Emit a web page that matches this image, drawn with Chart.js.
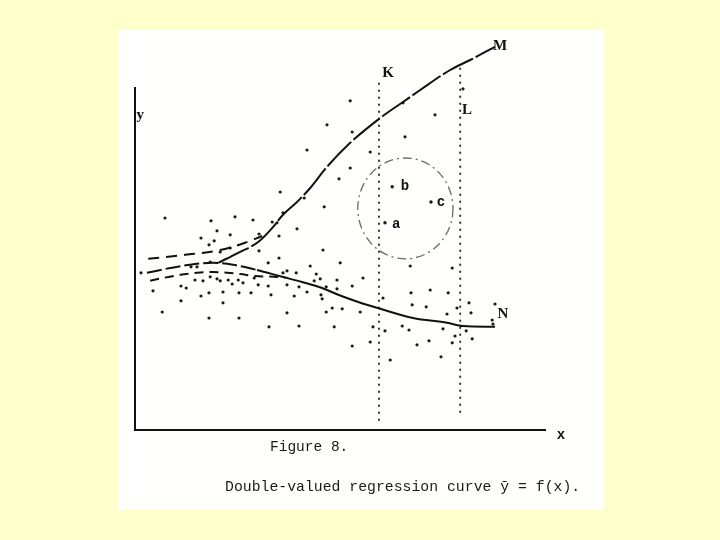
<!DOCTYPE html>
<html>
<head>
<meta charset="utf-8">
<title>Figure 8</title>
<script src="https://cdn.jsdelivr.net/npm/chart.js@4/dist/chart.umd.min.js"></script>
<style>
    body { margin: 0; background: #ffffcc; }
    #page { position: absolute; left: 118px; top: 30px; width: 486px; height: 480px; background: #fffffd; }
    #fig { position: absolute; left: 0; top: 0; }
    .cap { position: absolute; font-family: "Liberation Mono", monospace; color: #1a1a1a; white-space: pre; line-height: 1; }
</style>
</head>
<body>
<div id="page"></div>
<canvas id="fig" width="720" height="540"></canvas>
<div class="cap" style="left:270px; top:440px; font-size:14.5px;">Figure 8.</div>
<div class="cap" style="left:225px; top:480px; font-size:14.8px;">Double-valued regression curve ȳ = f(x).</div>
<script>
// scattered observations (x, y)
var dotsX = [7.5, 19, 25, 29.5, 20.5, 23.8, 16.5, 18.5, 19.8, 21.3, 23.8, 18.8, 1.5, 15.5, 14, 15, 17, 18.8, 20.5, 21.3, 23.3, 24.3, 25.8, 27, 29.8, 11.5, 12.8, 4.5, 16.5, 18.5, 22, 26, 29, 11.5, 22, 6.8, 18.5, 26,
    37, 34.3, 35.5, 31, 36, 40.5, 47.3, 47, 31, 33.3, 36, 43.8, 51.3, 38, 37, 40.3, 45.3, 44.8, 46.3, 50.5, 57, 30.8, 33.3, 38, 41, 43, 47.8, 50.5, 54.3, 34, 39.8, 46.5, 46.8, 49.3, 51.8, 47.8, 56.3, 38, 33.5, 41, 49.8, 59.5, 54.3,
    71, 78, 55.5, 63.8, 53.8, 67, 75, 48, 54.3, 67.5, 43, 58.8, 53.8, 51, 36.3, 42.3, 88, 87.5, 82,
    68.8, 79.3, 62, 69, 73.8, 78.3, 69.3, 72.8, 83.5, 84, 90, 78, 80.5, 89.3, 89.5, 66.8, 68.5, 77, 82.8, 80, 84.3, 73.5, 79.3, 70.5, 63.8, 76.5, 62.5, 58.8];
var dotsY = [53, 52.3, 53.3, 52.5, 49.8, 48.8, 48, 46.3, 47.3, 44.5, 45.5, 42, 39.3, 40.8, 40.8, 37.5, 37.3, 38.3, 37.8, 37.3, 37.5, 36.5, 37.5, 36.8, 38, 36, 35.5, 34.8, 33.5, 34.3, 34.5, 34.3, 34.3, 32.3, 31.8, 29.5, 28, 28,
    54.3, 52, 51.8, 49, 48.5, 50.3, 55.8, 45, 44.8, 41.8, 43, 41, 41.8, 39.8, 39.3, 39.3, 39, 37.3, 37.8, 37.5, 38, 36.3, 36, 36.3, 35.8, 34.5, 35.8, 35.3, 36, 33.8, 33.5, 33.8, 32.8, 30.5, 30.3, 29.5, 29.5, 29.3, 25.8, 26, 25.8, 25.8, 21,
    93.8, 94.3, 90.5, 86.5, 82.3, 81.8, 78.8, 76.3, 74.5, 73.3, 70, 69.5, 65.5, 62.8, 59.5, 58, 97.5, 93.5, 85.3,
    41, 40.5, 33, 34.3, 35, 34.3, 31.3, 30.8, 31.8, 29.3, 31.5, 29, 30.5, 27.5, 26.5, 26, 25, 25.3, 24.8, 23.5, 22.8, 22.3, 21.8, 21.3, 17.5, 18.3, 24.8, 22];

// marked observations a, b, c
var markedX = [62.5, 64.3, 74];
var markedY = [51.8, 60.8, 57];

// upper branch M, with its dashed start
var curveMX = [20.8, 25.8, 30.8, 34.3, 37, 40.5, 43.8, 48, 53.8, 61.3, 67, 71.3, 78.8, 83.8, 90];
var curveMY = [41.8, 44.3, 47, 50.5, 53.8, 57, 60.5, 65.8, 71.8, 78, 82, 85, 90, 92.5, 95.8];
var dashUpX = [3.3, 12.5, 21.3, 27.5, 31.8];
var dashUpY = [42.8, 43.8, 45, 46.8, 48.5];

// lower branch N, with its dashed start
var curveNX = [3, 8.8, 15, 19.5, 24.5, 30.5, 36.8, 41.8, 46.8, 50.8, 55.8, 61.3, 69.5, 78, 82, 90];
var curveNY = [39.3, 40.5, 41.5, 41.8, 41.3, 40, 38.3, 37, 35.5, 33.8, 32, 30.3, 28, 26.8, 26, 25.8];
var dashLowX = [3.8, 7, 11.3, 15.5, 19.5, 23, 26.3, 30, 35, 37.5];
var dashLowY = [37.3, 38, 38.8, 39.3, 39.5, 39.3, 39, 38.5, 38.3, 38];

// vertical strips K and L
var stripX = [61, 81.3];
var stripTop = [87.8, 91.8];
var stripBottom = [2.5, 4.5];

// circle round a, b, c
var circleCenter = [67.6, 55.4];
var circleRadius = [11.9, 12.6];

// letters on the figure
var labelText = ['y', 'x', 'K', 'L', 'M', 'N', 'a', 'b', 'c'];
var labelX = [1.3, 106.5, 63.3, 83, 91.3, 92, 65.3, 67.5, 76.5];
var labelY = [78.8, -1.3, 89.3, 80, 96, 29, 51.5, 61, 56.8];

function pairs(xs, ys) {
    return xs.map(function (x, i) { return { x: x, y: ys[i] }; });
}

var figureExtras = {
    id: 'figureExtras',
    afterDatasetsDraw: function (chart) {
        var ctx = chart.ctx;
        var sx = chart.scales.x;
        var sy = chart.scales.y;

        // dash-dot circle
        var cx = sx.getPixelForValue(circleCenter[0]);
        var cy = sy.getPixelForValue(circleCenter[1]);
        var rx = sx.getPixelForValue(circleCenter[0] + circleRadius[0]) - cx;
        var ry = cy - sy.getPixelForValue(circleCenter[1] + circleRadius[1]);
        ctx.save();
        ctx.strokeStyle = '#6a6a6a';
        ctx.lineWidth = 1.3;
        ctx.setLineDash([9, 4, 2, 4]);
        ctx.beginPath();
        ctx.ellipse(cx, cy, rx, ry, 0, 0, Math.PI * 2);
        ctx.stroke();
        ctx.restore();

        // letters
        ctx.save();
        ctx.fillStyle = '#111';
        ctx.textAlign = 'center';
        ctx.textBaseline = 'middle';
        labelText.forEach(function (t, i) {
            var serif = /[KLMNy]/.test(t);
            ctx.font = serif ? 'bold 15px "Liberation Serif"' : 'bold 14px "Liberation Mono"';
            ctx.fillText(t, sx.getPixelForValue(labelX[i]), sy.getPixelForValue(labelY[i]));
        });
        ctx.restore();
    }
};

document.addEventListener("DOMContentLoaded", function () {
    var datasets = [];

    datasets.push({
        data: pairs(curveMX, curveMY),
        borderColor: '#111',
        borderWidth: 2,
        borderDash: [34, 3],
        pointRadius: 0,
        cubicInterpolationMode: 'monotone',
        clip: false
    });
    datasets.push({
        data: pairs(dashUpX, dashUpY),
        borderColor: '#111',
        borderWidth: 2,
        borderDash: [11, 7],
        pointRadius: 0,
        cubicInterpolationMode: 'monotone',
        clip: false
    });
    datasets.push({
        data: pairs(curveNX, curveNY),
        borderColor: '#111',
        borderWidth: 2,
        pointRadius: 0,
        cubicInterpolationMode: 'monotone',
        segment: {
            borderDash: function (c) { return c.p0.parsed.x < 30 ? [15, 4] : undefined; }
        },
        clip: false
    });
    datasets.push({
        data: pairs(dashLowX, dashLowY),
        borderColor: '#111',
        borderWidth: 2,
        borderDash: [9, 6],
        pointRadius: 0,
        cubicInterpolationMode: 'monotone',
        clip: false
    });

    // dotted verticals
    stripX.forEach(function (x, i) {
        datasets.push({
            data: [{ x: x, y: stripBottom[i] }, { x: x, y: stripTop[i] }],
            borderColor: '#333',
            borderWidth: 2,
            borderDash: [0.5, 6.5],
            borderCapStyle: 'round',
            pointRadius: 0,
            clip: false
        });
    });

    datasets.push({
        data: pairs(dotsX, dotsY),
        showLine: false,
        pointRadius: 1.6,
        pointBackgroundColor: '#1a1a1a',
        pointBorderWidth: 0,
        clip: false
    });
    datasets.push({
        data: pairs(markedX, markedY),
        showLine: false,
        pointRadius: 1.7,
        pointBackgroundColor: '#1a1a1a',
        pointBorderWidth: 0,
        clip: false
    });

    var ctx = document.getElementById('fig').getContext('2d');
    var chart = new Chart(ctx, {
        type: 'line',
        data: { datasets: datasets },
        options: {
            responsive: false,
            animation: false,
            events: [],
            // the scales keep 8px of their own, so the axes land at x=135 and y=430
            layout: { padding: { left: 127, right: 175, top: 88, bottom: 102 } },
            plugins: {
                legend: { display: false },
                tooltip: { enabled: false }
            },
            scales: {
                x: {
                    type: 'linear',
                    min: 0,
                    max: 102.5,
                    grid: { display: false },
                    ticks: { display: false },
                    border: { display: true, color: '#111', width: 2 }
                },
                y: {
                    type: 'linear',
                    min: 0,
                    max: 85.5,
                    grid: { display: false },
                    ticks: { display: false },
                    border: { display: true, color: '#111', width: 2 }
                }
            }
        },
        plugins: [figureExtras]
    });
});
</script>
</body>
</html>
